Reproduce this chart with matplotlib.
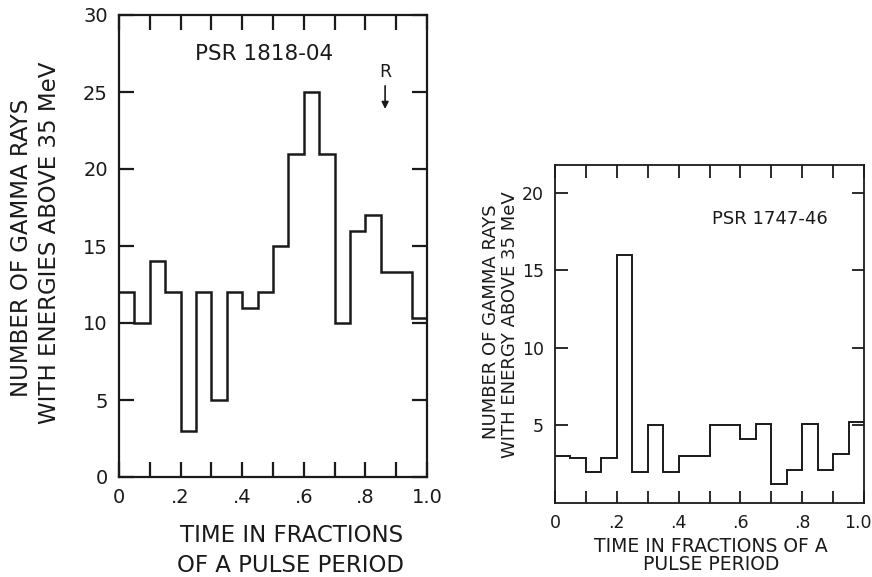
import numpy as np
import matplotlib
matplotlib.use("Agg")
import matplotlib.pyplot as plt
from matplotlib.transforms import ScaledTranslation

INK = "#1a1a1a"

# Pulse-phase histograms, 20 bins of 0.05 in phase
phase_edges = np.linspace(0.0, 1.0, 21)

# PSR 1818-04 counts per phase bin
counts_1818 = [12, 10, 14, 12, 3, 12, 5, 12, 11, 12,
               15, 21, 25, 21, 10, 16, 17, 13.3, 13.3, 10.3]

# PSR 1747-46 counts per phase bin
counts_1747 = [3.0, 2.9, 2.0, 2.9, 16, 2.0, 5.0, 2.0, 3.0, 3.0,
               5.05, 5.05, 4.15, 5.1, 1.2, 2.15, 5.1, 2.15, 3.15, 5.2]

xtick_major = [0.0, 0.2, 0.4, 0.6, 0.8, 1.0]
xtick_labels = ["0", ".2", ".4", ".6", ".8", "1.0"]
xtick_minor = [0.1, 0.3, 0.5, 0.7, 0.9]

# marker for the radio pulse phase
radio_phase = 0.864

plt.rcParams["font.family"] = ["DejaVu Sans"]

fig = plt.figure(figsize=(8.72, 5.77), dpi=100)
fig.patch.set_facecolor("white")


def style_axes(ax, lw, tick_len, tick_size):
    for sp in ax.spines.values():
        sp.set_linewidth(lw)
        sp.set_color(INK)
    ax.set_xlim(0, 1)
    ax.set_xticks(xtick_major)
    ax.set_xticklabels(xtick_labels)
    ax.set_xticks(xtick_minor, minor=True)
    ax.tick_params(axis="both", which="both", direction="in", length=tick_len,
                   width=lw, color=INK, top=True, right=True,
                   labelsize=tick_size, labelcolor=INK)
    ax.tick_params(axis="x", which="both", pad=8)
    ax.tick_params(axis="y", which="both", pad=8)


# left panel: PSR 1818-04
ax1 = fig.add_axes([119 / 872, 100 / 577, 308 / 872, 462 / 577])
ax1.stairs(counts_1818, phase_edges, baseline=None, color=INK, lw=1.8)
ax1.set_ylim(0, 30)
ax1.set_yticks(np.arange(0, 31, 5))
style_axes(ax1, 1.6, 11, 14)
ax1.text(0.47, 27.5, "PSR 1818-04", ha="center", va="center",
         fontsize=15.5, color=INK)
ax1.text(radio_phase, 26.3, "R", ha="center", va="center", fontsize=12.5, color=INK)
ax1.annotate("", xy=(radio_phase, 23.9), xytext=(radio_phase, 25.4),
             arrowprops=dict(arrowstyle="-|>", lw=1.2, color=INK,
                             mutation_scale=10, shrinkA=0, shrinkB=0))

fig.text(292 / 872, 1 - 535 / 577, "TIME IN FRACTIONS", ha="center", va="center",
         fontsize=16.5, color=INK)
fig.text(290 / 872, 1 - 566 / 577, "OF A PULSE PERIOD", ha="center", va="center",
         fontsize=16.5, color=INK)
fig.text(22 / 872, 1 - 248 / 577, "NUMBER OF GAMMA RAYS", rotation=90,
         ha="center", va="center", fontsize=16.5, color=INK)
fig.text(49 / 872, 1 - 243 / 577, "WITH ENERGIES ABOVE 35 MeV", rotation=90,
         ha="center", va="center", fontsize=16.5, color=INK)

# right panel: PSR 1747-46
ax2 = fig.add_axes([555 / 872, 74 / 577, 309 / 872, 338 / 577])
ax2.stairs(counts_1747, phase_edges, baseline=None, color=INK, lw=1.4)
ax2.set_ylim(0, 21.8)
ax2.set_yticks([5, 10, 15, 20])
style_axes(ax2, 1.3, 9, 12.5)
ax2.text(0.696, 18.3, "PSR 1747-46", ha="center", va="center",
         fontsize=13, color=INK)

# keep the last phase label inside the canvas
last = ax2.get_xticklabels()[-1]
last.set_transform(last.get_transform() + ScaledTranslation(-6 / 100, 0, fig.dpi_scale_trans))

fig.text(711 / 872, 1 - 546 / 577, "TIME IN FRACTIONS OF A", ha="center",
         va="center", fontsize=13.5, color=INK)
fig.text(711 / 872, 1 - 564 / 577, "PULSE PERIOD", ha="center",
         va="center", fontsize=13.5, color=INK)
fig.text(491 / 872, 1 - 322 / 577, "NUMBER OF GAMMA RAYS", rotation=90,
         ha="center", va="center", fontsize=13, color=INK)
fig.text(510 / 872, 1 - 325 / 577, "WITH ENERGY ABOVE 35 MeV", rotation=90,
         ha="center", va="center", fontsize=13, color=INK)

fig.savefig("out.png", dpi=100, facecolor="white")
